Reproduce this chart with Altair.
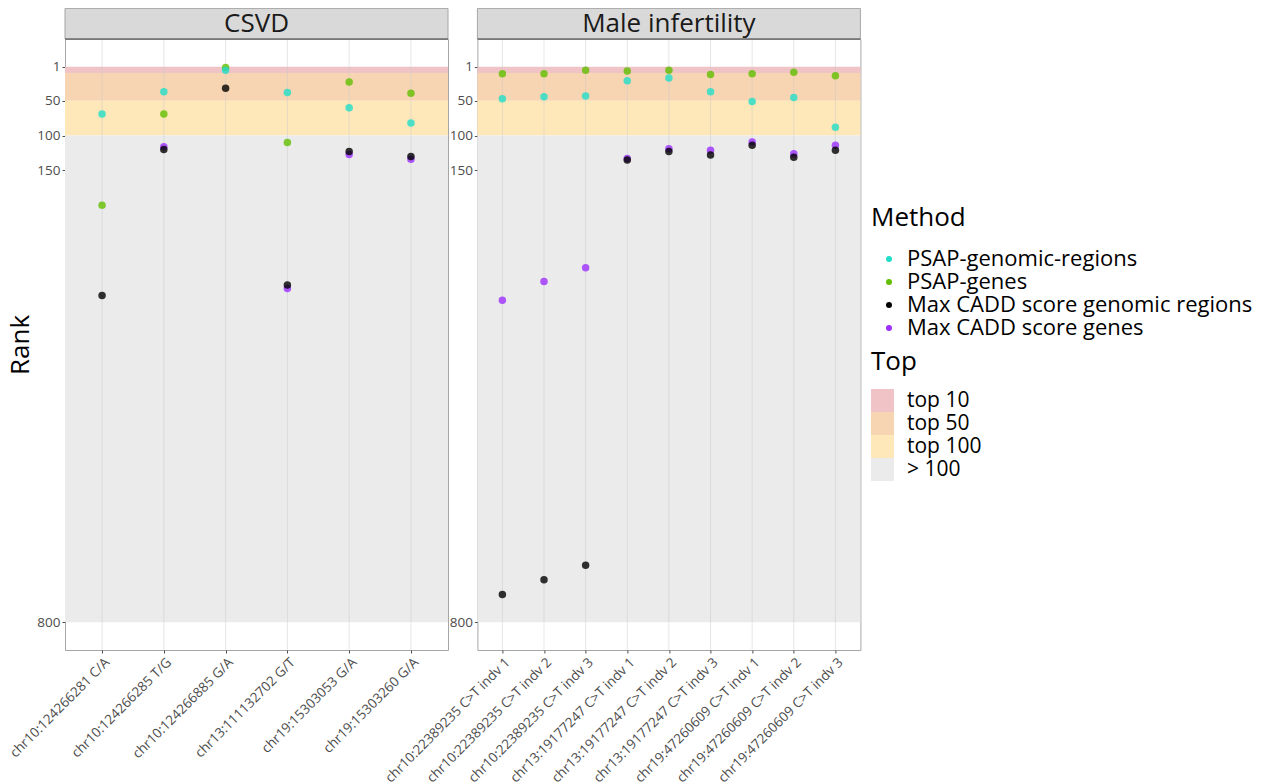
import altair as alt
import pandas as pd

FONT = "Open Sans"

# ---------------- data ----------------
methods = ["PSAP-genomic-regions", "PSAP-genes",
           "Max CADD score genomic regions", "Max CADD score genes"]
method_colors = ["#22ddc8", "#62be00", "#000000", "#9b30ff"]

csvd_variants = ["chr10:124266281 C/A", "chr10:124266285 T/G", "chr10:124266885 G/A",
                 "chr13:111132702 G/T", "chr19:15303053 G/A", "chr19:15303260 G/A"]
csvd_psap_regions = [69, 37, 6, 38, 60, 82]
csvd_psap_genes = [200, 69, 2, 110, 23, 39]
csvd_cadd_regions = [330, 120, 32, 315, 123, 130]
csvd_cadd_genes = [None, 116, None, 320, 127, 134]

mi_variants = ["chr10:22389235 C>T indv 1", "chr10:22389235 C>T indv 2", "chr10:22389235 C>T indv 3",
               "chr13:19177247 C>T indv 1", "chr13:19177247 C>T indv 2", "chr13:19177247 C>T indv 3",
               "chr19:47260609 C>T indv 1", "chr19:47260609 C>T indv 2", "chr19:47260609 C>T indv 3"]
mi_psap_regions = [47, 44, 43, 21, 17, 37, 51, 45, 88]
mi_psap_genes = [11, 11, 6, 7, 6, 12, 11, 9, 14]
mi_cadd_regions = [760, 739, 718, 135, 123, 128, 114, 131, 121]
mi_cadd_genes = [337, 310, 290, 133, 119, 121, 109, 126, 114]

band_labels = ["top 10", "top 50", "top 100", "> 100"]
band_start = [1, 10, 50, 100]
band_end = [10, 50, 100, 800]
band_colors = ["#f0c4c6", "#f8d5b2", "#fee8b9", "#ebebeb"]

y_ticks = [1, 50, 100, 150, 800]
y_domain = [-39, 840]

# ---------------- helpers ----------------
W, H = 383, 611
STRIP = 30.6


def long_points(variants, series):
    rows = []
    # draw order: genes PSAP, regions PSAP, CADD genes, CADD regions
    order = [1, 0, 3, 2]
    for mi in order:
        for v, r in zip(variants, series[mi]):
            if r is not None:
                rows.append({"variant": v, "Method": methods[mi], "rank": r})
    return pd.DataFrame(rows)


bands = pd.DataFrame({"Top": band_labels, "start": band_start, "end": band_end})

color_scale = alt.Scale(domain=methods, range=method_colors)
fill_scale = alt.Scale(domain=band_labels, range=band_colors)
y_scale = alt.Scale(domain=y_domain, reverse=True, nice=False, zero=False)


def panel(name, variants, series, show_title):
    pts = long_points(variants, series)
    cats = pd.DataFrame({"variant": variants})
    xs = alt.Scale(type="point", domain=variants, padding=0.6)
    x_axis = alt.Axis(labelAngle=-45, labelFontSize=13.5, labelColor="#4d4d4d",
                      labelFont=FONT, tickColor="#4d4d4d", tickSize=3, domain=False,
                      grid=False, labelPadding=2, title=None, labelLimit=0)
    y_axis = alt.Axis(values=y_ticks, labelFontSize=13.5, labelColor="#4d4d4d",
                      labelFont=FONT, tickColor="#4d4d4d", tickSize=3, domain=False,
                      grid=False, labelPadding=2,
                      titleFontSize=26, titleFont=FONT, titleFontWeight="normal",
                      titleColor="#000000", titlePadding=3)

    band_layer = alt.Chart(bands).mark_rect().encode(
        x=alt.value(0), x2=alt.value(W),
        y=alt.Y("start:Q", scale=y_scale, axis=y_axis,
                title=("Rank" if show_title else None)),
        y2="end:Q",
        fill=alt.Fill("Top:N", scale=fill_scale, sort=band_labels,
                      legend=alt.Legend(title="Top", orient="none", legendX=806, legendY=310,
                                        symbolType="square", symbolSize=529,
                                        symbolStrokeWidth=0, symbolOpacity=1,
                                        labelOffset=13, rowPadding=0, labelLimit=0,
                                        titlePadding=14)),
    )

    grid_layer = alt.Chart(cats).mark_rule(color="#c8c8c8", opacity=0.45, strokeWidth=1).encode(
        x=alt.X("variant:N", scale=xs, sort=variants, axis=x_axis),
        y=alt.value(0), y2=alt.value(H),
    )

    point_layer = alt.Chart(pts).mark_circle(size=56, opacity=0.8).encode(
        x=alt.X("variant:N", scale=xs, sort=variants, axis=x_axis),
        y=alt.Y("rank:Q", scale=y_scale),
        color=alt.Color("Method:N", scale=color_scale, sort=methods,
                        legend=alt.Legend(title="Method", orient="none", legendX=806, legendY=166,
                                          symbolType="circle", symbolSize=36,
                                          symbolStrokeWidth=0, symbolOpacity=1,
                                          symbolOffset=7, labelOffset=7, rowPadding=1,
                                          labelLimit=0, labelFontSize=22, titlePadding=17)),
    )

    strip_df = pd.DataFrame({"panel": [name]})
    strip_rect = alt.Chart(strip_df).mark_rect(fill="#d9d9d9", stroke="#a6a6a6", strokeWidth=1).encode(
        x=alt.value(0), x2=alt.value(W), y=alt.value(-STRIP), y2=alt.value(0)
    )
    strip_line = alt.Chart(strip_df).mark_rule(color="#4d4d4d", strokeWidth=1).encode(
        x=alt.value(0), x2=alt.value(W), y=alt.value(0)
    )
    strip_text = alt.Chart(strip_df).mark_text(font=FONT, fontSize=26, color="#1a1a1a",
                                               baseline="middle", align="center").encode(
        x=alt.value(W / 2), y=alt.value(-STRIP / 2), text="panel:N"
    )

    return alt.layer(band_layer, grid_layer, point_layer, strip_rect, strip_line, strip_text).properties(
        width=W, height=H
    )


left = panel("CSVD", csvd_variants,
             [csvd_psap_regions, csvd_psap_genes, csvd_cadd_regions, csvd_cadd_genes], True)
right = panel("Male infertility", mi_variants,
              [mi_psap_regions, mi_psap_genes, mi_cadd_regions, mi_cadd_genes], False)

chart = alt.hconcat(left, right, spacing=29.4, bounds="flush").resolve_scale(
    x="independent", y="shared", color="shared", fill="shared"
).configure_view(
    stroke="#a6a6a6", strokeWidth=1
).configure_legend(
    titleFont=FONT, titleFontSize=26, titleFontWeight="normal", titleColor="#000000",
    labelFont=FONT, labelFontSize=21, labelColor="#000000", padding=0
).properties(
    padding={"left": -2, "top": -1, "right": 0, "bottom": 0},
    background="white"
)

chart.save("out.html", embed_options={"renderer": "svg", "actions": False})
